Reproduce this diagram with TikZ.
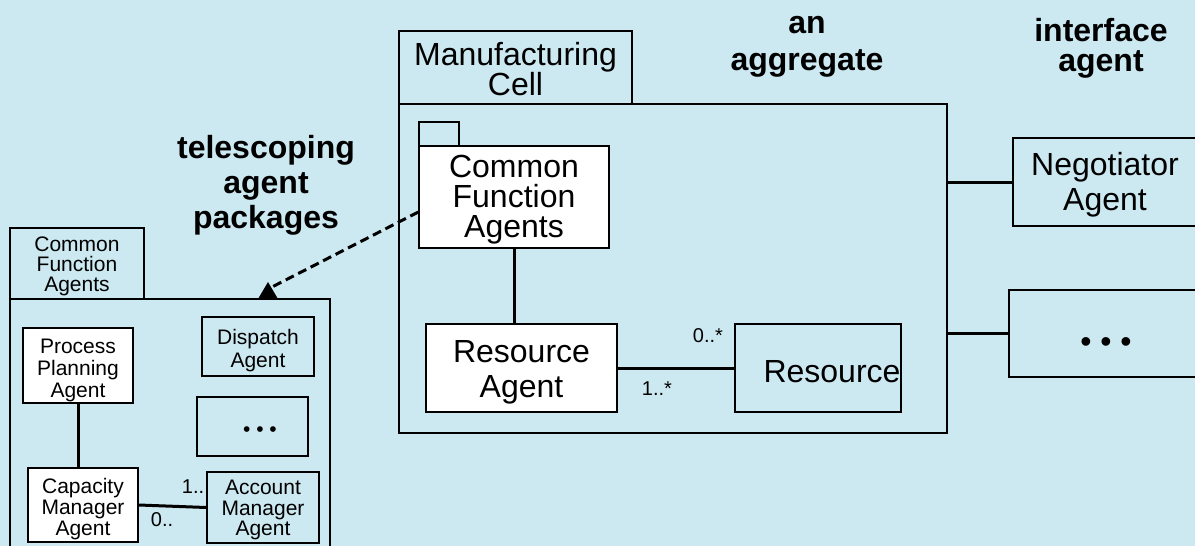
\documentclass[tikz,border=0pt]{standalone}
\usepackage{fontspec}
\setmainfont{Liberation Sans}
\definecolor{bg}{RGB}{204,232,240}
\newcommand{\mystrut}[1]{\rule{0pt}{#1pt}}
\newcommand{\nolsl}{\lineskiplimit=-100pt\relax}
\lineskiplimit=-100pt
\begin{document}
\begin{tikzpicture}[x=1pt,y=-1pt,
  box/.style={draw=black, line width=1.3pt, inner sep=0pt, align=center, fill=bg},
  wbox/.style={box, fill=white},
  conn/.style={line width=3pt},
  big/.style={font=\fontsize{32}{30}\selectfont\nolsl},
  small/.style={font=\fontsize{21}{21}\selectfont\nolsl},
  lab/.style={font=\fontsize{20}{20}\selectfont, inner sep=0pt},
  title/.style={align=center, inner sep=0pt}]
\fill[bg] (0,0) rectangle (1195,546);
\useasboundingbox (0,0) rectangle (1195,546);
% Manufacturing cell package
\node[box, minimum width=233pt, minimum height=73pt, font=\fontsize{32}{30}\selectfont\nolsl] (celltab) at (515.5,67.5) {\mystrut{27}Manufacturing\\Cell};
\node[box, minimum width=548pt, minimum height=329pt] (cell) at (673,268.5) {};
\node[box, minimum width=40pt, minimum height=24pt] (cfatab) at (439,134) {};
\node[wbox, big, minimum width=190pt, minimum height=102pt] (cfa) at (514,197) {\mystrut{27}Common\\Function\\Agents};
\node[wbox, minimum width=191pt, minimum height=88pt, font=\fontsize{32}{35}\selectfont\nolsl] (ra) at (521.5,368) {\mystrut{30}Resource\\Agent};
\node[box, big, minimum width=166pt, minimum height=88pt] (res) at (818,368) {\hspace*{28pt}\makebox[0pt]{\mystrut{29}Resource}};
\draw[conn] (cfa.south) -- (cfa.south |- ra.north);
\draw[conn] (ra.east) -- (res.west);
\node[lab] (l1) at (708,336) {0..*};
\node[lab] (l2) at (657,389) {1..*};
% interface agents
\node[box, minimum width=184pt, minimum height=88pt, font=\fontsize{32}{35}\selectfont\nolsl] (neg) at (1105,182) {\mystrut{28}Negotiator\\Agent};
\node[box, big, minimum width=188pt, minimum height=87pt] (dotsR) at (1103,333.5) {\hspace*{6pt}\raisebox{-19pt}[0pt][0pt]{• • •}};
\draw[conn] (neg.west) -- (neg.west -| cell.east);
\draw[conn] (dotsR.west) -- (dotsR.west -| cell.east);
% titles
\node[title, font=\bfseries\fontsize{32}{37}\selectfont] (t1) at (807,46.5) {an\\aggregate};
\node[title, font=\bfseries\fontsize{32}{30}\selectfont] (t2) at (1101,48.6) {interface\\agent};
\node[title, font=\bfseries\fontsize{32}{35}\selectfont] (t3) at (266,185) {telescoping\\agent\\packages};
% left package
\node[box, minimum width=134pt, minimum height=71pt, font=\fontsize{21}{20}\selectfont\nolsl] (lptab) at (77,263.5) {\mystrut{21}Common\\Function\\Agents};
\node[box, minimum width=320pt, minimum height=261pt] (lp) at (170,429.5) {};
\node[wbox, minimum width=110pt, minimum height=75pt, font=\fontsize{21}{22}\selectfont\nolsl] (ppa) at (78,365.5) {\mystrut{23.4}Process\\Planning\\Agent};
\node[wbox, small, minimum width=110pt, minimum height=74pt] (cma) at (83,505) {\mystrut{22.4}Capacity\\Manager\\Agent};
\node[box, minimum width=112pt, minimum height=71pt, font=\fontsize{21}{20.5}\selectfont\nolsl] (ama) at (263,507.5) {\mystrut{19.4}Account\\Manager\\Agent};
\node[box, minimum width=112pt, minimum height=59pt, font=\fontsize{21}{23}\selectfont\nolsl] (dis) at (258,346.5) {\mystrut{22.4}Dispatch\\Agent};
\node[box, small, minimum width=111pt, minimum height=59pt] (dotsL) at (252.5,426.5) {\hspace*{15pt}\raisebox{-10pt}[0pt][0pt]{• • •}};
\draw[conn] (ppa.south) -- (ppa.south |- cma.north);
\draw[conn] (cma.east) -- (ama.west);
\node[lab] (l3) at (193,487) {1..};
\node[lab] (l4) at (162,520) {0..};
% telescoping arrow
\coordinate (tip) at (272,287);
\draw[conn, dash pattern=on 9pt off 5pt] ([yshift=-15pt]cfa.west) -- (tip);
\fill (268,282) -- (278,299) -- (258,299) -- cycle;
\end{tikzpicture}
\end{document}
